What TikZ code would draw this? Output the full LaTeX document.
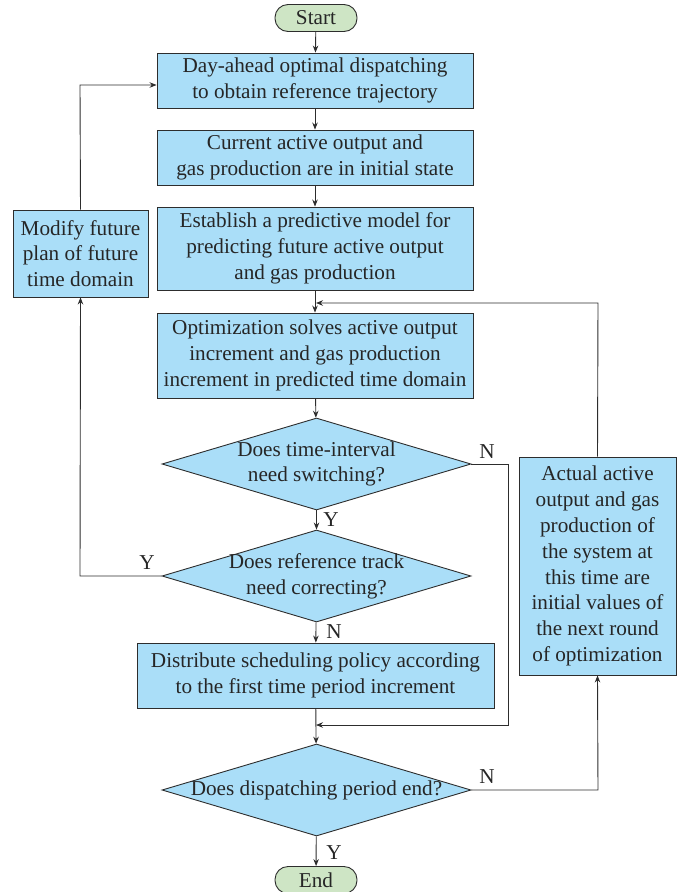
\documentclass[tikz,border=0pt]{standalone}
\usepackage{fontspec}
\setmainfont{Liberation Serif}
\usetikzlibrary{shapes.geometric,arrows.meta}
\definecolor{boxblue}{RGB}{170,222,248}
\definecolor{termgreen}{RGB}{206,229,197}
\definecolor{lineclr}{RGB}{45,45,45}
\begin{document}
\begin{tikzpicture}[x=1pt,y=-1pt,
  every node/.style={font=\fontsize{21.2}{25.8}\selectfont, text=black!85},
  proc/.style={draw=lineclr, line width=0.9pt, fill=boxblue, align=center, inner sep=0pt},
  term/.style={draw=lineclr, line width=0.9pt, fill=termgreen, rounded corners=13pt, minimum width=82pt, minimum height=27pt, inner sep=0pt},
  dia/.style={draw=lineclr, line width=0.9pt, fill=boxblue, diamond, minimum width=309pt, minimum height=92pt, inner sep=0pt},
  conn/.style={draw=lineclr, line width=0.9pt, -{Stealth[length=7pt,width=5.5pt]}},
  lbl/.style={inner sep=0pt}
]
\useasboundingbox (0,0) rectangle (697,892);
\node[term] (start) at (316,18) {Start};
\node[proc, minimum width=316pt, minimum height=55pt] (b1) at (315,80.5) {Day-ahead optimal dispatching\\to obtain reference trajectory};
\node[proc, minimum width=316pt, minimum height=55pt] (b2) at (315,157.5) {Current active output and\\gas production are in initial state};
\node[proc, minimum width=316pt, minimum height=83pt] (b3) at (315,248.5) {Establish a predictive model for\\predicting future active output\\and gas production};
\node[proc, minimum width=316pt, minimum height=85pt] (b4) at (315,355.5) {Optimization solves active output\\increment and gas production\\increment in predicted time domain};
\node[dia] (d1) at (316.5,464) {};
\node[lbl, align=center] at (d1) {Does time-interval\\need switching?};
\node[dia] (d2) at (316.5,576) {};
\node[lbl, align=center] at (d2) {Does reference track\\need correcting?};
\node[proc, minimum width=357pt, minimum height=65pt] (b5) at (315.5,675.5) {Distribute scheduling policy according\\to the first time period increment};
\node[dia] (d3) at (316.5,790) {};
\node[lbl] at (d3) {Does dispatching period end?};
\node[term] (end) at (316,880) {End};
\node[proc, minimum width=135pt, minimum height=87pt] (lb) at (80.5,253.5) {Modify future\\plan of future\\time domain};
\node[proc, minimum width=157pt, minimum height=218pt] (rb) at (597.5,566) {Actual active\\output and gas\\production of\\the system at\\this time are\\initial values of\\the next round\\of optimization};

\coordinate (j1) at (316,303);
\coordinate (j2) at (316,725);
\coordinate (r1) at (508,464);
\coordinate (r2) at (508,725);
\coordinate (l1) at (80,576);
\coordinate (l2) at (80,85);
\coordinate (rr1) at (598,790);
\coordinate (rr2) at (598,303);

\draw[conn] (start) -- (b1);
\draw[conn] (b1) -- (b2);
\draw[conn] (b2) -- (b3);
\draw[conn] (b3) -- (b4);
\draw[conn] (b4) -- (d1);
\draw[conn] (d1) -- (d2);
\draw[conn] (d2) -- (b5);
\draw[conn] (b5) -- (d3);
\draw[conn] (d3) -- (end);
\draw[conn] (d1.east) -- (r1) -- (r2) -- (j2);
\draw[conn] (d2.west) -- (l1) -- (lb.south);
\draw[conn] (lb.north) -- (l2) -- (b1.west |- l2);
\draw[conn] (d3.east) -- (rr1) -- (rb.south);
\draw[conn] (rb.north) -- (rr2) -- (j1);

\node[lbl] at (487,452) {N};
\node[lbl] at (331,520) {Y};
\node[lbl] at (147,563) {Y};
\node[lbl] at (334,632) {N};
\node[lbl] at (487,777) {N};
\node[lbl] at (334,853) {Y};
\end{tikzpicture}
\end{document}
